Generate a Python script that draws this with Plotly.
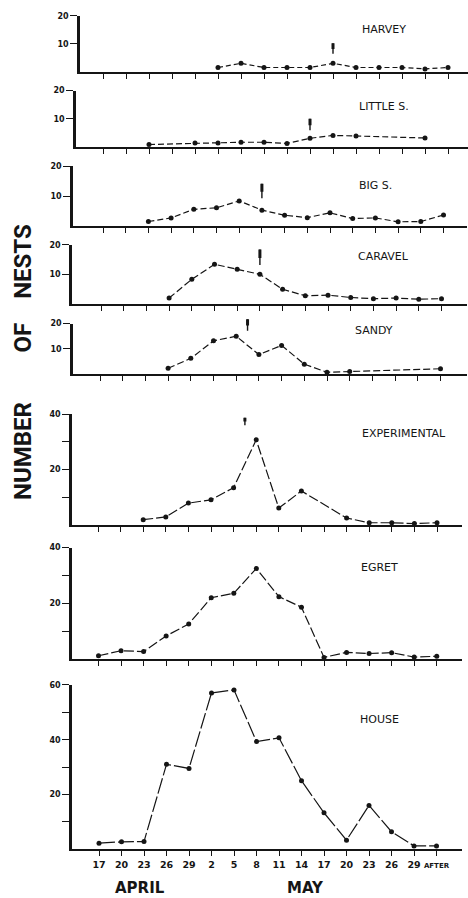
import plotly.graph_objects as go

W, H = 468, 898

# ---- data ----
date_labels = ["17", "20", "23", "26", "29", "2", "5", "8", "11", "14",
               "17", "20", "23", "26", "29", "AFTER"]
date_idx = list(range(len(date_labels)))

panel_names = ["HARVEY", "LITTLE S.", "BIG S.", "CARAVEL", "SANDY",
               "EXPERIMENTAL", "EGRET", "HOUSE"]

harvey = [None, None, None, None, None, 1.5, 3, 1.5, 1.5, 1.5, 3, 1.5, 1.5, 1.5, 1, 1.5]
little_s = [None, None, 1, None, 1.5, 1.5, 1.8, 1.8, 1.4, 3.2, 4.2, 4, None, None, 3.3, None]
big_s = [None, None, 1.5, 2.7, 5.6, 6.1, 8.4, 5.3, 3.6, 2.8, 4.4, 2.5, 2.7, 1.4, 1.5, 3.7]
caravel = [None, None, None, 1.9, 8.3, 13.4, 11.7, 10, 4.9, 2.7, 2.9, 2.1, 1.7, 1.9, 1.5, 1.7]
sandy = [None, None, None, 2.4, 6.3, 13.2, 15, 7.8, 11.4, 4, 0.8, 1.1, None, None, None, 2.2]
experimental = [None, None, 1.8, 2.8, 7.8, 9, 13.4, 30.7, 6, 12.2, None, 2.4, 0.7, 0.7, 0.4, 0.7]
egret = [1.2, 3, 2.7, 8.3, 12.6, 22, 23.6, 32.5, 22.4, 18.6, 0.6, 2.4, 2, 2.3, 0.7, 1]
house = [2.2, 2.7, 2.8, 31, 29.5, 57.1, 58.2, 39.3, 40.7, 25, 13.3, 3.3, 16, 6.4, 1.2, 1.2]

series = [harvey, little_s, big_s, caravel, sandy, experimental, egret, house]
y_max = [20, 20, 20, 20, 20, 40, 40, 60]

# arrow marks (date index, value at arrow tip)
arrow_x = [10, 9, 7, 7, 6.5, 6.5, 6.5, 6]
arrow_y = [6.4, 6, 9.3, 13.2, 17.2, 36, 40.4, 60.7]

# ---- layout (pixel geometry) ----
panel_px = [(12, 68), (87, 144), (163, 223), (242, 301), (321, 372),
            (412, 523), (546, 658), (684, 849)]
# (axis left px, first tick px, tick spacing px, axis right px)
panel_xgeo = [(80, 103, 23.0, 468), (76, 103, 23.0, 468), (73, 103, 22.7, 467),
              (72, 101, 22.7, 467), (73, 100, 22.7, 467), (72, 98, 22.6, 462),
              (72, 98.5, 22.55, 462), (72, 99, 22.5, 462)]
arrow_len = [12, 13, 16, 17, 13, 9, 11, 13]
label_px = [(360, 26), (357, 103), (357, 182), (356, 254), (353, 328),
            (360, 431), (359, 566), (358, 719)]
dashes = ["5px,3px", "6px,3px", "6px,3px", "7px,3px", "7px,3px",
          "10px,3px", "10px,3px", "16px,3px"]

INK = "#151515"
FONT = "DejaVu Sans"

fig = go.Figure()
layout = dict(
    width=W, height=H, margin=dict(l=0, r=0, t=0, b=0),
    paper_bgcolor="white", plot_bgcolor="white", showlegend=False,
)
annotations = []

for i, (vals, ymax) in enumerate(zip(series, y_max)):
    n = i + 1
    xa = "x" if n == 1 else f"x{n}"
    ya = "y" if n == 1 else f"y{n}"
    fig.add_trace(go.Scatter(
        x=date_idx, y=vals, xaxis=xa, yaxis=ya, mode="lines+markers",
        connectgaps=True, cliponaxis=False,
        line=dict(color=INK, width=1.2, dash=dashes[i]),
        marker=dict(color=INK, size=5),
        hoverinfo="skip",
    ))
    top, bot = panel_px[i]
    xl, x0, dx, xrgt = panel_xgeo[i]
    xr = [(xl - x0) / dx, (xrgt - x0) / dx]
    last = (i == len(series) - 1)
    layout["xaxis" if n == 1 else f"xaxis{n}"] = dict(
        domain=[xl / W, xrgt / W], range=xr, anchor=ya,
        showline=True, linewidth=2.2, linecolor=INK,
        tickmode="array", tickvals=date_idx,
        ticktext=[t if t != "AFTER" else "<span style='font-size:7px'>AFTER</span>"
                  for t in date_labels],
        ticks="outside", ticklen=5, tickwidth=1.4, tickcolor=INK,
        showticklabels=last, showgrid=False, zeroline=False,
        tickfont=dict(family=FONT, size=9.5, color=INK, weight="bold"),
    )
    if ymax == 20:
        tv, tt = [10, 20], ["10", "20"]
    elif ymax == 40:
        tv, tt = [10, 20, 30, 40], ["", "20", "", "40"]
    else:
        tv, tt = [10, 20, 30, 40, 50, 60], ["", "20", "", "40", "", "60"]
    layout["yaxis" if n == 1 else f"yaxis{n}"] = dict(
        domain=[1 - bot / H, 1 - top / H], range=[0, ymax], anchor=xa,
        showline=True, linewidth=2.6, linecolor=INK,
        tickmode="array", tickvals=tv, ticktext=tt,
        ticks="outside", ticklen=7, tickwidth=1.4, tickcolor=INK,
        showgrid=False, zeroline=False,
        tickfont=dict(family=FONT, size=8, color=INK, weight="bold"),
    )
    # panel label
    lx, ly = label_px[i]
    annotations.append(dict(
        xref="paper", yref="paper", x=lx / W, y=1 - ly / H,
        xanchor="left", yanchor="middle", showarrow=False,
        text=panel_names[i],
        font=dict(family=FONT, size=11, color=INK),
    ))
    # arrow marks: thin full-length stroke plus thicker upper part
    annotations.append(dict(
        xref=xa, yref=ya, x=arrow_x[i], y=arrow_y[i], text="",
        showarrow=True, arrowhead=0, arrowwidth=1.4, arrowcolor=INK,
        ax=0, ay=-arrow_len[i],
    ))
    annotations.append(dict(
        xref=xa, yref=ya, x=arrow_x[i], y=arrow_y[i], text="",
        showarrow=True, arrowhead=0, arrowwidth=3, arrowcolor=INK,
        ax=0, ay=-arrow_len[i], standoff=arrow_len[i] * 0.4,
    ))

# y axis title, one word at a time (reads bottom to top)
title_words = ["NUMBER", "OF", "NESTS"]
title_centers = [449, 335, 259]
for word, cy in zip(title_words, title_centers):
    annotations.append(dict(
        xref="paper", yref="paper", x=23 / W, y=1 - cy / H,
        xanchor="center", yanchor="middle", showarrow=False, textangle=-90,
        text=word,
        font=dict(family="Roboto, DejaVu Sans", size=24,
                  color=INK, weight="bold"),
    ))
# month labels
for txt, px in [("APRIL", 140), ("MAY", 305)]:
    annotations.append(dict(
        xref="paper", yref="paper", x=px / W, y=1 - 888 / H,
        xanchor="center", yanchor="middle", showarrow=False, text=txt,
        font=dict(family=FONT, size=15, color=INK, weight="bold"),
    ))

layout["annotations"] = annotations
fig.update_layout(**layout)
fig.write_html("out.html")
